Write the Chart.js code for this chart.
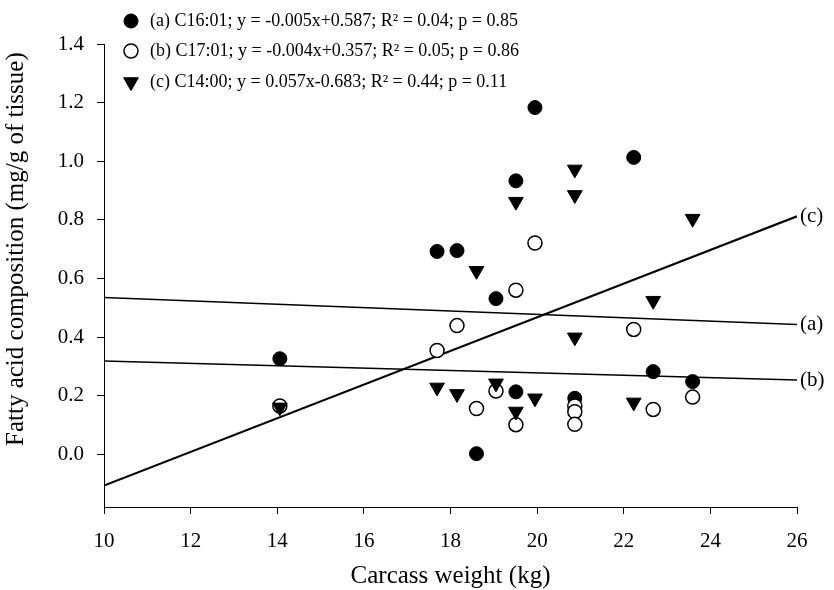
<!DOCTYPE html>
<html><head><meta charset="utf-8">
<script src="https://cdn.jsdelivr.net/npm/chart.js@4.4.1/dist/chart.umd.min.js"></script>
<style>html,body{margin:0;padding:0;background:#fff;}#wrap{width:834px;height:590px;position:relative;}</style>
</head><body><div id="wrap"><canvas id="c" width="834" height="590"></canvas></div>
<script>
const xTicks = [10, 12, 14, 16, 18, 20, 22, 24, 26];
const yTicks = [0, 0.2, 0.4, 0.6, 0.8, 1.0, 1.2, 1.4];

const weightA = [14.06, 17.69, 18.15, 18.6, 19.05, 19.51, 19.51, 19.95, 20.87, 22.23, 22.68, 23.59];
const c1601 = [0.326, 0.692, 0.695, 0.002, 0.531, 0.933, 0.213, 1.183, 0.191, 1.013, 0.282, 0.248];

const weightB = [14.06, 17.69, 18.15, 18.6, 19.05, 19.51, 19.51, 19.95, 20.87, 20.87, 20.87, 22.23, 22.68, 23.59];
const c1701 = [0.165, 0.354, 0.439, 0.156, 0.216, 0.560, 0.101, 0.721, 0.165, 0.145, 0.102, 0.426, 0.153, 0.195];

const weightC = [14.06, 17.69, 18.15, 18.6, 19.05, 19.51, 19.51, 19.95, 20.87, 20.87, 20.87, 22.23, 22.68, 23.59];
const c1400 = [0.160, 0.228, 0.206, 0.626, 0.242, 0.862, 0.146, 0.191, 0.972, 0.885, 0.399, 0.177, 0.524, 0.804];

const lineX = [10, 26];
const fitA = [0.535, 0.443];
const fitB = [0.318, 0.253];
const fitC = [-0.107, 0.812];

const legendLabels = [
  '(a) C16:01; y = -0.005x+0.587; R\u00B2 = 0.04; p = 0.85',
  '(b) C17:01; y = -0.004x+0.357; R\u00B2 = 0.05; p = 0.86',
  '(c) C14:00; y = 0.057x-0.683; R\u00B2 = 0.44; p = 0.11'
];
const lineLabels = ['(a)', '(b)', '(c)'];
const yTitle = 'Fatty acid composition (mg/g of tissue)';
const xTitle = 'Carcass weight (kg)';

const FONT = '"Liberation Serif", "Times New Roman", serif';
const pts = (xs, ys) => xs.map((x, i) => ({x: x, y: ys[i]}));

const markerStyles = [
  {pointStyle: 'circle', radius: 7, rotation: 0, fill: '#000', stroke: '#000', bw: 1},
  {pointStyle: 'circle', radius: 7, rotation: 0, fill: '#fff', stroke: '#000', bw: 1.5},
  {pointStyle: 'triangle', radius: 8.5, rotation: 180, fill: '#000', stroke: '#000', bw: 1}
];

const overlayPlugin = {
  id: 'overlay',
  afterDraw(chart) {
    const ctx = chart.ctx;
    const xs = chart.scales.x, ys = chart.scales.y;
    ctx.save();
    ctx.font = '18px ' + FONT;
    ctx.fillStyle = '#000';
    ctx.textBaseline = 'middle';
    ctx.textAlign = 'left';
    const rowY = [21, 51, 82];
    legendLabels.forEach((t, i) => {
      const m = markerStyles[i];
      ctx.fillStyle = m.fill;
      ctx.strokeStyle = m.stroke;
      ctx.lineWidth = m.bw;
      Chart.helpers.drawPoint(ctx, {pointStyle: m.pointStyle, radius: m.radius, rotation: m.rotation, borderWidth: m.bw}, 131, rowY[i]);
      ctx.fillStyle = '#000';
      ctx.fillText(t, 150, rowY[i]);
    });
    const ends = [fitA[1], fitB[1], fitC[1]];
    ctx.font = '21px ' + FONT;
    lineLabels.forEach((t, i) => {
      ctx.fillText(t, xs.getPixelForValue(lineX[1]) + 3, ys.getPixelForValue(ends[i]));
    });
    // y axis title, centred on the labelled tick range
    const yMid = (ys.getPixelForValue(yTicks[0]) + ys.getPixelForValue(yTicks[yTicks.length - 1])) / 2;
    ctx.font = '25px ' + FONT;
    ctx.textAlign = 'center';
    ctx.translate(16, yMid);
    ctx.rotate(-Math.PI / 2);
    ctx.fillText(yTitle, 0, 0);
    ctx.restore();
  }
};

const lineDs = (label, ys, w) => ({
  type: 'line', label: label, data: pts(lineX, ys), borderColor: '#000', borderWidth: w,
  pointRadius: 0, fill: false, tension: 0, order: 5
});

new Chart(document.getElementById('c'), {
  type: 'scatter',
  data: {
    datasets: [
      lineDs('fit a', fitA, 1.5),
      lineDs('fit b', fitB, 1.5),
      lineDs('fit c', fitC, 2),
      {label: 'C16:01', data: pts(weightA, c1601), pointStyle: 'circle', pointRadius: 7,
       backgroundColor: '#000', borderColor: '#000', borderWidth: 1, order: 3},
      {label: 'C17:01', data: pts(weightB, c1701), pointStyle: 'circle', pointRadius: 7,
       backgroundColor: '#fff', borderColor: '#000', borderWidth: 1.5, order: 2},
      {label: 'C14:00', data: pts(weightC, c1400), pointStyle: 'triangle', pointRadius: 8.5, rotation: 180,
       backgroundColor: '#000', borderColor: '#000', borderWidth: 1, order: 1}
    ]
  },
  options: {
    responsive: false,
    devicePixelRatio: 1,
    animation: false,
    layout: {padding: {top: 44, right: 37, left: 0, bottom: 0}},
    plugins: {legend: {display: false}, tooltip: {enabled: false}},
    elements: {point: {hoverRadius: 7}},
    scales: {
      x: {
        type: 'linear', position: 'bottom', min: 10, max: 26,
        afterBuildTicks: s => { s.ticks = xTicks.map(v => ({value: v})); },
        afterFit: s => { s.height = 83; },
        ticks: {font: {family: FONT, size: 21}, color: '#000', padding: 15, maxRotation: 0, autoSkip: false,
                callback: v => String(v)},
        grid: {drawOnChartArea: false, drawTicks: true, tickLength: 7, color: '#000', lineWidth: 1},
        border: {display: true, color: '#000', width: 1},
        title: {display: true, text: xTitle, font: {family: FONT, size: 25, lineHeight: 1}, color: '#000',
                padding: {top: 4, bottom: 1}}
      },
      y: {
        type: 'linear', min: -0.18, max: 1.4,
        afterBuildTicks: s => { s.ticks = yTicks.map(v => ({value: v})); },
        afterFit: s => { s.width = 104; },
        ticks: {font: {family: FONT, size: 21}, color: '#000', padding: 13, autoSkip: false,
                callback: v => Number(v).toFixed(1)},
        grid: {drawOnChartArea: false, drawTicks: true, tickLength: 7, color: '#000', lineWidth: 1},
        border: {display: true, color: '#000', width: 1},
        title: {display: false}
      }
    }
  },
  plugins: [overlayPlugin]
});
</script></body></html>
